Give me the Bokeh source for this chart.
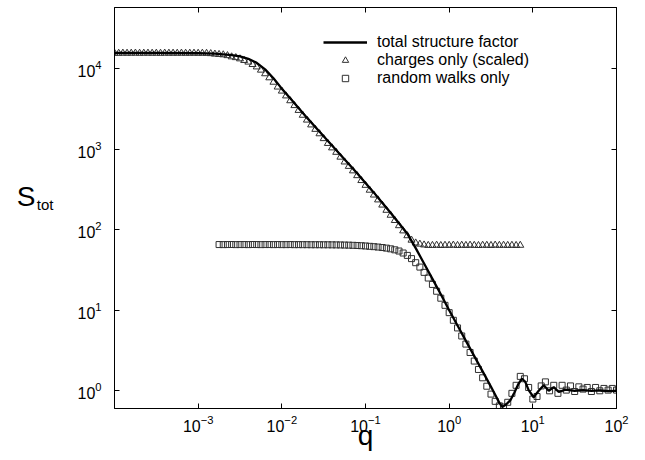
from bokeh.plotting import figure
from bokeh.models import (LogAxis, FixedTicker, Legend, LegendItem,
                          Range1d, CustomJSTickFormatter)
from bokeh.embed import file_html
from bokeh.resources import INLINE

# ---------------- data ----------------
# common q grid of the sampled curves (20 points per decade)
Q_GRID = [
    1.000e-4, 1.122e-4, 1.259e-4, 1.413e-4, 1.585e-4, 1.778e-4, 1.995e-4, 2.239e-4, 2.512e-4, 2.818e-4,
    3.162e-4, 3.548e-4, 3.981e-4, 4.467e-4, 5.012e-4, 5.623e-4, 6.310e-4, 7.079e-4, 7.943e-4, 8.913e-4,
    1.000e-3, 1.122e-3, 1.259e-3, 1.413e-3, 1.585e-3, 1.778e-3, 1.995e-3, 2.239e-3, 2.512e-3, 2.818e-3,
    3.162e-3, 3.548e-3, 3.981e-3, 4.467e-3, 5.012e-3, 5.623e-3, 6.310e-3, 7.079e-3, 7.943e-3, 8.913e-3,
    1.000e-2, 1.122e-2, 1.259e-2, 1.413e-2, 1.585e-2, 1.778e-2, 1.995e-2, 2.239e-2, 2.512e-2, 2.818e-2,
    3.162e-2, 3.548e-2, 3.981e-2, 4.467e-2, 5.012e-2, 5.623e-2, 6.310e-2, 7.079e-2, 7.943e-2, 8.913e-2,
    1.000e-1, 1.122e-1, 1.259e-1, 1.413e-1, 1.585e-1, 1.778e-1, 1.995e-1, 2.239e-1, 2.512e-1, 2.818e-1,
    3.162e-1, 3.548e-1, 3.981e-1, 4.467e-1, 5.012e-1, 5.623e-1, 6.310e-1, 7.079e-1, 7.943e-1, 8.913e-1,
    1.000, 1.122, 1.259, 1.413, 1.585, 1.778, 1.995, 2.239, 2.512, 2.818,
    3.162, 3.548, 3.981, 4.467, 5.012, 5.623, 6.310, 7.079, 7.943, 8.913,
    10.00, 11.22, 12.59, 14.13, 15.85, 17.78, 19.95, 22.39, 25.12, 28.18,
    31.62, 35.48, 39.81, 44.67, 50.12, 56.23, 63.10, 70.79, 79.43, 89.13,
    100.0,
]

# charges only (scaled) -- triangles
Q_CHARGES = Q_GRID[:98]
S_CHARGES = [
    15500, 15450, 15520, 15480, 15500, 15530, 15470, 15500, 15510, 15480,
    15500, 15460, 15520, 15490, 15500, 15480, 15510, 15470, 15490, 15500,
    15460, 15480, 15440,
    15300, 15100, 14960, 14790, 14450, 13960, 13650, 13180, 12590, 12020,
    11220, 10470, 9550, 8610, 7670, 6760, 5890,
    5248, 4571, 3981, 3467, 3020, 2630, 2291, 1995, 1758, 1549,
    1349, 1175, 1035, 912, 794, 692, 610, 537, 468, 407,
    355, 309, 269, 234, 202, 174, 151, 130, 112, 96.6,
    84.1,
    74.1, 68.4, 66.1, 64.6, 63.8,
    63.8, 64.2, 63.6, 64.0, 63.9, 64.3, 63.7, 64.1, 63.8, 64.2,
    63.9, 63.6, 64.1, 64.0, 63.7, 64.3, 63.9, 64.1, 63.8, 64.0,
    63.7, 64.0,
]

# random walks only -- squares
Q_WALKS = Q_GRID[25:]
S_WALKS = [
    65.3, 65.2, 65.3, 65.4, 65.2, 65.3, 65.3, 65.2, 65.4, 65.3,
    65.2, 65.3, 65.3, 65.2, 65.3, 65.2, 65.2, 65.3, 65.1, 65.2,
    65.1, 65.1, 65.0, 65.0, 65.0,
    64.9, 64.9, 64.8, 64.7, 64.6, 64.4, 64.2, 63.9, 63.6, 63.2,
    62.7, 62.1, 61.5, 60.8, 60.0, 59.0, 57.8, 56.2,
    54.3, 51.3, 47.9, 43.7, 38.9, 34.3, 29.5, 25.1, 20.9, 17.2,
    14.1, 11.5, 9.33, 7.50, 6.03, 4.79, 3.80, 2.99, 2.34, 1.84,
    1.45, 1.14, 0.91, 0.74, 0.65, 0.63, 0.72, 0.93, 1.17, 1.51,
    1.41, 1.10, 0.79, 0.85, 1.15, 1.29, 1.00, 1.17, 0.93, 1.17,
    1.02, 1.15, 0.98, 1.12, 1.05, 1.10, 0.98, 1.10, 1.00, 1.07,
    1.02, 1.07, 1.02,
]

# total structure factor -- solid line
Q_TOTAL = [
    1.0e-4, 3.162e-4, 1.0e-3, 1.585e-3, 2.512e-3, 3.162e-3, 3.981e-3, 5.012e-3, 6.310e-3, 7.943e-3,
    1.0e-2, 1.259e-2, 1.585e-2, 1.995e-2, 2.512e-2, 3.162e-2, 3.981e-2, 5.012e-2, 6.310e-2, 7.943e-2,
    0.1, 0.1259, 0.1585, 0.1995, 0.2512, 0.3162, 0.3981, 0.5012, 0.6310, 0.7943,
    1.0, 1.259, 1.585, 1.995, 2.512, 3.162, 3.548, 3.981, 4.305, 4.786,
    5.370, 6.026, 6.761, 7.413, 8.128, 8.913, 10.23, 11.75, 13.49, 15.49,
    17.78, 20.42, 24.55, 31.62, 39.81, 50.12, 63.10, 79.43, 100.0,
]
S_TOTAL = [
    15670, 15670, 15490, 15310, 14620, 14130, 13180, 11750, 9772, 7586,
    5623, 4266, 3236, 2455, 1884, 1445, 1109, 851, 653, 501,
    380, 288, 216, 162, 120, 89.1, 58.9, 38.0, 24.5, 15.8,
    10.0, 6.46, 4.17, 2.69, 1.74, 1.12, 0.891, 0.708, 0.631, 0.676,
    0.759, 0.955, 1.23, 1.41, 1.29, 1.02, 0.832, 1.0, 1.17, 1.0,
    1.11, 0.966, 1.035, 1.0, 1.02, 1.0, 1.01, 0.99, 1.0,
]

X_TICKS = [1e-3, 1e-2, 1e-1, 1e0, 1e1, 1e2]
Y_TICKS = [1e0, 1e1, 1e2, 1e3, 1e4]
LEGEND_LABELS = ["total structure factor", "charges only (scaled)", "random walks only"]
X_TITLE = "q"
Y_TITLE_MAIN = "S"
Y_TITLE_SUB = "tot"

assert len(Q_CHARGES) == len(S_CHARGES)
assert len(Q_WALKS) == len(S_WALKS)
assert len(Q_TOTAL) == len(S_TOTAL)

FONT = "Liberation Sans"

# ---------------- figure ----------------
p = figure(width=645, height=460, x_axis_type="log", y_axis_type="log",
           x_range=Range1d(1e-4, 1e2), y_range=Range1d(0.603, 57150),
           output_backend="svg", toolbar_location=None,
           min_border_left=114, min_border_right=29,
           min_border_top=7, min_border_bottom=52)
p.background_fill_color = "white"
p.border_fill_color = "white"
p.outline_line_color = "black"
p.outline_line_width = 1
p.grid.visible = False

mark_color = "#303030"
r_tri = p.scatter(Q_CHARGES, S_CHARGES, marker="triangle", size=7,
                  line_color=mark_color, line_width=1, fill_color=None)
r_sq = p.scatter(Q_WALKS, S_WALKS, marker="square", size=6,
                 line_color=mark_color, line_width=1, fill_color=None)
r_line = p.line(Q_TOTAL, S_TOTAL, line_color="black", line_width=2.3)


def style_axis(ax, ticks, show_labels):
    ax.ticker = FixedTicker(ticks=ticks)
    ax.major_tick_in = 5
    ax.major_tick_out = 0
    ax.minor_tick_line_color = None
    ax.axis_line_color = "black"
    ax.major_tick_line_color = "black"
    if show_labels:
        ax.major_label_text_font = FONT
        ax.major_label_text_font_size = "16px"
        ax.major_label_text_color = "black"
    else:
        ax.formatter = CustomJSTickFormatter(code="return ''")
        ax.major_label_text_font_size = "0px"
        ax.major_label_standoff = 0


style_axis(p.xaxis[0], X_TICKS, True)
style_axis(p.yaxis[0], Y_TICKS, True)
p.xaxis[0].major_label_standoff = 6
p.yaxis[0].major_label_standoff = 13

# x title as the axis label
xa = p.xaxis[0]
xa.axis_label = X_TITLE
xa.axis_label_text_font = FONT
xa.axis_label_text_font_size = "28px"
xa.axis_label_text_font_style = "normal"
xa.axis_label_text_color = "black"
xa.axis_label_standoff = -15

top_ax = LogAxis()
style_axis(top_ax, X_TICKS, False)
p.add_layout(top_ax, "above")
right_ax = LogAxis()
style_axis(right_ax, Y_TICKS, False)
p.add_layout(right_ax, "right")


# y title "S" with subscript "tot": each piece is the single label of an
# otherwise invisible left axis, so it sits beside the tick labels
def title_axis(text, at, size, standoff):
    ax = LogAxis(ticker=FixedTicker(ticks=[at]),
                 formatter=CustomJSTickFormatter(code="return %r" % text))
    ax.axis_line_color = None
    ax.major_tick_line_color = None
    ax.minor_tick_line_color = None
    ax.major_tick_in = 0
    ax.major_tick_out = 0
    ax.major_label_standoff = standoff
    ax.major_label_text_font = FONT
    ax.major_label_text_font_size = size
    ax.major_label_text_color = "black"
    return ax


p.add_layout(title_axis(Y_TITLE_SUB, 206.0, "15px", 21), "left")
p.add_layout(title_axis(Y_TITLE_MAIN, 255.0, "28px", -2), "left")

legend = Legend(items=[LegendItem(label=LEGEND_LABELS[0], renderers=[r_line]),
                       LegendItem(label=LEGEND_LABELS[1], renderers=[r_tri]),
                       LegendItem(label=LEGEND_LABELS[2], renderers=[r_sq])],
                location=(209, 321), orientation="vertical",
                glyph_width=44, glyph_height=16, label_height=16,
                label_standoff=10, spacing=0, padding=0, margin=0,
                border_line_alpha=0, background_fill_alpha=0,
                label_text_font=FONT, label_text_font_size="16px",
                label_text_color="black")
p.add_layout(legend)

open("out.html", "w").write(file_html(p, INLINE))
